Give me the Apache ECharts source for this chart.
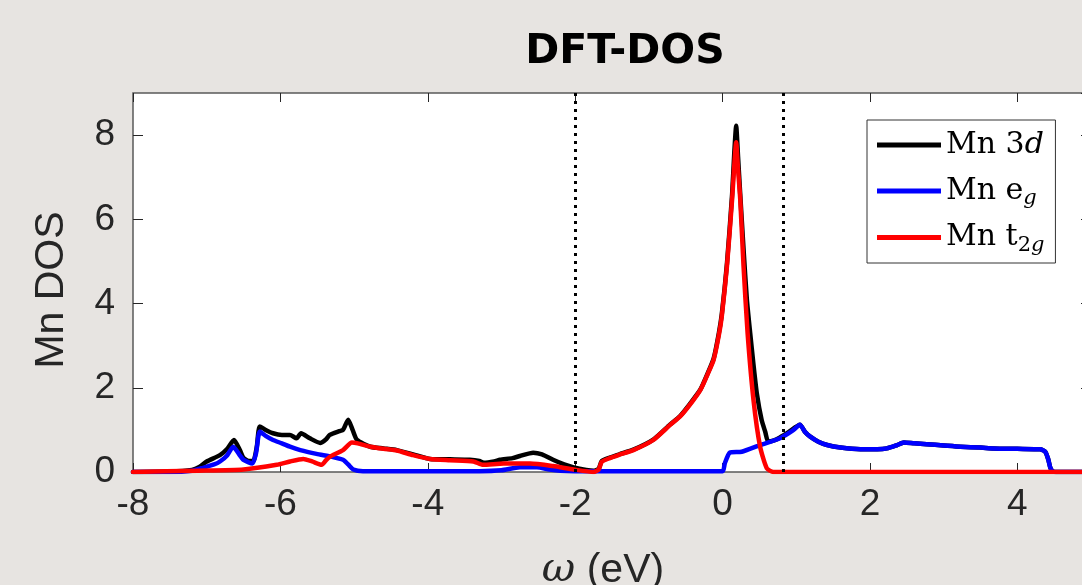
<!DOCTYPE html>
<html>
<head>
<meta charset="utf-8">
<title>DFT-DOS</title>
<script src="https://cdn.jsdelivr.net/npm/echarts@6/dist/echarts.min.js"></script>
<style>
  html, body { margin: 0; padding: 0; background: #e7e4e1; }
  #main { width: 1082px; height: 585px; }
</style>
</head>
<body>
<div id="main"></div>
<script>
// energy grid (eV) and DOS, one pair of arrays per curve
const omega3d = [-8, -7.5, -7.2, -7.1, -7.0, -6.82, -6.72, -6.63, -6.55, -6.5, -6.42, -6.36, -6.32, -6.28, -6.2, -6.1,
  -5.98, -5.87, -5.78, -5.72, -5.6, -5.46, -5.38, -5.33, -5.2, -5.15, -5.08, -5.02, -4.96, -4.78, -4.6, -4.42,
  -4.2, -3.97, -3.7, -3.43, -3.3, -3.24, -3.1, -3.02, -2.85, -2.75, -2.57, -2.45, -2.3, -2.15, -2.02, -1.85,
  -1.75, -1.68, -1.64, -1.53, -1.4, -1.21, -0.94, -0.71, -0.575, -0.45, -0.3, -0.2, -0.12, -0.05, -0.01, 0.06,
  0.13, 0.16, 0.185, 0.21, 0.24, 0.285, 0.33, 0.375, 0.42, 0.465, 0.53, 0.58, 0.62, 0.7, 0.78, 0.9, 1.05, 1.12,
  1.19, 1.3, 1.42, 1.6, 1.87, 2.1, 2.23, 2.37, 2.46, 2.6, 2.77, 3.0, 3.23, 3.5, 3.68, 4.0, 4.31, 4.38, 4.42,
  4.45, 4.49, 4.6, 5.0];
const dos3d = [0, 0.01, 0.05, 0.12, 0.25, 0.40, 0.55, 0.76, 0.52, 0.33, 0.26, 0.28, 0.6, 1.08, 1.0, 0.92,
  0.88, 0.88, 0.8, 0.92, 0.8, 0.69, 0.78, 0.88, 0.97, 1.0, 1.24, 1.0, 0.76, 0.60, 0.56, 0.52,
  0.42, 0.31, 0.30, 0.29, 0.26, 0.22, 0.25, 0.29, 0.33, 0.38, 0.46, 0.42, 0.29, 0.18, 0.11, 0.05,
  0.03, 0.08, 0.26, 0.34, 0.42, 0.53, 0.77, 1.13, 1.33, 1.6, 1.96, 2.35, 2.7, 3.3, 3.75, 4.95,
  6.6, 7.6, 8.22, 7.5, 6.6, 5.29, 4.1, 3.3, 2.55, 1.87, 1.24, 0.95, 0.72, 0.75, 0.82, 0.95, 1.12, 0.95,
  0.84, 0.72, 0.64, 0.58, 0.54, 0.54, 0.56, 0.64, 0.70, 0.68, 0.66, 0.63, 0.60, 0.58, 0.56, 0.55, 0.54, 0.48, 0.3,
  0.09, 0.01, 0, 0];

const omegaEg = [-8, -7.5, -7.2, -7.05, -6.9, -6.82, -6.72, -6.64, -6.56, -6.5, -6.38, -6.33, -6.28, -6.2, -6.1,
  -5.98, -5.87, -5.73, -5.51, -5.3, -5.15, -5.08, -5.01, -4.88, -4.0, -3.3, -3.0, -2.75, -2.52, -2.35, -2.2,
  -2.0, 0.0, 0.03, 0.1, 0.26, 0.51, 0.78, 0.95, 1.05, 1.12, 1.19, 1.3, 1.42, 1.6, 1.87, 2.1, 2.23, 2.37, 2.46,
  2.6, 2.77, 3.0, 3.23, 3.5, 3.68, 4.0, 4.31, 4.38, 4.42, 4.45, 4.49, 4.6, 5.0];
const dosEg = [0, 0, 0.03, 0.1, 0.18, 0.25, 0.4, 0.6, 0.42, 0.29, 0.2, 0.45, 0.96, 0.86, 0.76,
  0.68, 0.60, 0.52, 0.43, 0.36, 0.29, 0.18, 0.06, 0.02, 0.02, 0.02, 0.04, 0.11, 0.11, 0.06, 0.03,
  0.02, 0.02, 0.2, 0.46, 0.48, 0.64, 0.80, 0.98, 1.12, 0.95, 0.84, 0.72, 0.64, 0.58, 0.54, 0.54, 0.56, 0.64, 0.70,
  0.68, 0.66, 0.63, 0.60, 0.58, 0.56, 0.55, 0.54, 0.48, 0.3, 0.09, 0.01, 0, 0];

const omegaT2g = [-8, -7.13, -6.5, -6.05, -5.87, -5.69, -5.57, -5.44, -5.38, -5.33, -5.15, -5.03, -4.95, -4.78,
  -4.6, -4.42, -4.2, -3.97, -3.7, -3.38, -3.25, -2.97, -2.61, -2.3, -2.02, -1.75, -1.68, -1.64, -1.53, -1.4,
  -1.21, -0.94, -0.71, -0.575, -0.45, -0.3, -0.2, -0.12, -0.05, -0.01, 0.06, 0.13, 0.16, 0.185, 0.21, 0.24,
  0.285, 0.34, 0.42, 0.51, 0.6, 0.69, 5.0];
const dosT2g = [0, 0.03, 0.06, 0.17, 0.25, 0.31, 0.25, 0.17, 0.28, 0.36, 0.52, 0.70, 0.68, 0.6,
  0.55, 0.51, 0.4, 0.31, 0.28, 0.25, 0.17, 0.2, 0.2, 0.14, 0.06, 0.0, 0.06, 0.24, 0.33, 0.41,
  0.52, 0.76, 1.12, 1.32, 1.58, 1.95, 2.33, 2.67, 3.25, 3.7, 4.89, 6.48, 7.3, 7.83, 7.2, 6.48,
  4.89, 3.3, 1.71, 0.6, 0.09, 0, 0];

const vLines = [-2, 0.82];
const xTicks = { min: -8, max: 5, interval: 2 };
const yTicks = { min: 0, max: 9, interval: 2 };

const legendText = {
  'Mn 3d': '{a|Mn 3}{i|d}',
  'Mn eg': '{a|Mn e}{s|g}',
  'Mn t2g': '{a|Mn t}{n|2}{s|g}'
};

function zip(xs, ys) {
  return xs.map((x, i) => [x, ys[i]]);
}

const chart = echarts.init(document.getElementById('main'));

const tickFont = 'Liberation Sans';
const axisColor = '#262626';

const baseX = {
  type: 'value',
  min: xTicks.min,
  max: xTicks.max,
  interval: xTicks.interval,
  axisLine: { show: false, onZero: false },
  axisTick: { inside: true, length: 9, lineStyle: { color: axisColor, width: 1 } },
  splitLine: { show: false }
};
const baseY = {
  type: 'value',
  min: yTicks.min,
  max: yTicks.max,
  interval: yTicks.interval,
  axisLine: { show: false, onZero: false },
  axisTick: { inside: true, length: 10, lineStyle: { color: axisColor, width: 1 } },
  splitLine: { show: false }
};

const lineSeries = (name, color, data) => ({
  name,
  type: 'line',
  data,
  symbol: 'none',
  showSymbol: false,
  smooth: 0.2,
  clip: true,
  lineStyle: { color, width: 4.5, join: 'round', cap: 'round' },
  itemStyle: { color },
  emphasis: { disabled: true }
});

const option = {
  backgroundColor: '#e7e4e1',
  animation: false,
  title: {
    text: 'DFT-DOS',
    left: 620,
    textAlign: 'center',
    top: 27,
    textStyle: { fontFamily: 'DejaVu Sans', fontWeight: 'bold', fontSize: 41, color: '#000' }
  },
  grid: {
    left: 133,
    top: 93,
    right: -9,
    bottom: 113,
    outerBoundsMode: 'none',
    containLabel: false,
    show: true,
    backgroundColor: '#fff',
    borderColor: '#5a5a5a',
    borderWidth: 1.5
  },
  legend: {
    orient: 'vertical',
    left: 867,
    top: 120,
    backgroundColor: '#fff',
    borderColor: '#333',
    borderWidth: 1,
    borderRadius: 0,
    padding: [7, 11, 7, 10],
    itemGap: 10,
    itemWidth: 64,
    itemHeight: 5,
    icon: 'rect',
    formatter: name => legendText[name],
    textStyle: {
      color: '#000',
      fontFamily: 'DejaVu Serif',
      fontSize: 30,
      lineHeight: 36,
      rich: {
        a: { fontFamily: 'DejaVu Serif', fontSize: 30, color: '#000' },
        i: { fontFamily: 'DejaVu Serif', fontStyle: 'italic', fontSize: 30, color: '#000' },
        n: { fontFamily: 'DejaVu Serif', fontSize: 21, color: '#000', padding: [16, 0, 0, 0] },
        s: { fontFamily: 'DejaVu Serif', fontStyle: 'italic', fontSize: 21, color: '#000', padding: [16, 0, 0, 0] }
      }
    }
  },
  xAxis: [
    Object.assign({}, baseX, {
      position: 'bottom',
      name: '{w|ω} (eV)',
      nameLocation: 'middle',
      nameGap: 78,
      nameTextStyle: {
        fontFamily: tickFont, fontSize: 41, color: axisColor, padding: [0, 18, 0, 0],
        rich: { w: { fontFamily: 'DejaVu Serif', fontStyle: 'italic', fontSize: 41, color: axisColor } }
      },
      axisLabel: { fontFamily: tickFont, fontSize: 37, color: axisColor, margin: 14, showMaxLabel: false }
    }),
    Object.assign({}, baseX, { position: 'top', axisLabel: { show: false } })
  ],
  yAxis: [
    Object.assign({}, baseY, {
      position: 'left',
      name: 'Mn DOS',
      nameLocation: 'middle',
      nameRotate: 90,
      nameGap: 61,
      nameTextStyle: { fontFamily: tickFont, fontSize: 41, color: axisColor, padding: [0, 15, 0, 0] },
      axisLabel: { fontFamily: tickFont, fontSize: 37, color: axisColor, margin: 18, showMaxLabel: false }
    }),
    Object.assign({}, baseY, { position: 'right', axisLabel: { show: false } })
  ],
  series: [
    lineSeries('Mn 3d', '#000000', zip(omega3d, dos3d)),
    lineSeries('Mn eg', '#0000ff', zip(omegaEg, dosEg)),
    Object.assign(lineSeries('Mn t2g', '#ff0000', zip(omegaT2g, dosT2g)), {
      markLine: {
        silent: true,
        symbol: ['none', 'none'],
        label: { show: false },
        lineStyle: { color: '#000', type: [3, 5], width: 3 },
        data: vLines.map(v => ({ xAxis: v }))
      }
    })
  ]
};

chart.setOption(option);
</script>
</body>
</html>
